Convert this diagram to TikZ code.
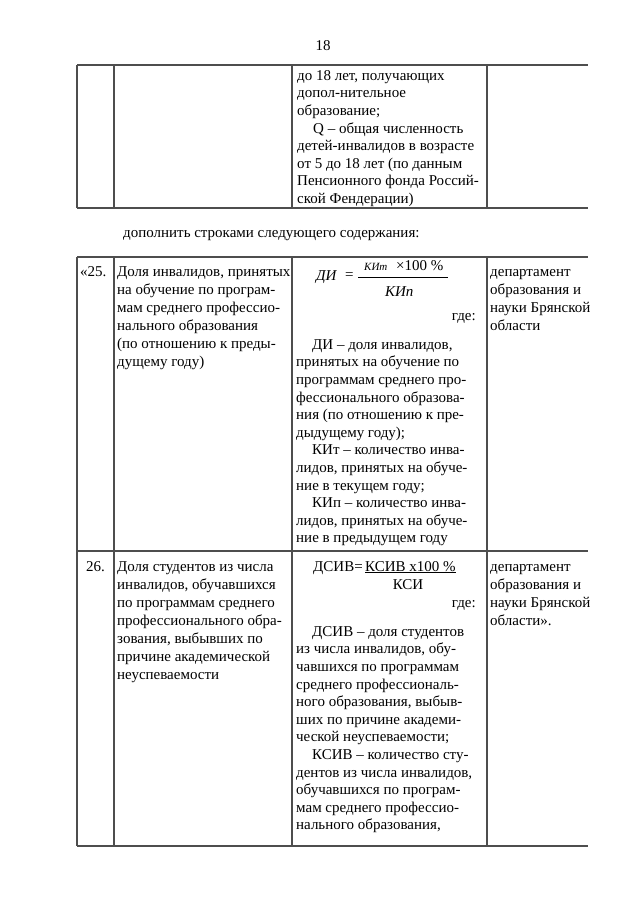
\documentclass[tikz,border=0pt]{standalone}
\usepackage{fontspec}
\setmainfont{Liberation Serif}
\usetikzlibrary{positioning}
\definecolor{rulegray}{RGB}{78,78,78}
\newcommand{\cellfont}{\fontsize{15}{17.6}\selectfont}
\newcommand{\sidefont}{\fontsize{15}{18}\selectfont}
\newcommand{\topstrut}{\rule{0pt}{12pt}}
\newcommand{\ind}{\hspace*{16pt}}
\tikzset{rule/.style = {draw=rulegray, line width=1.1pt},
         cell/.style = {anchor=north west, inner sep=0pt, align=left, font=\cellfont},
         sidecell/.style = {cell, font=\sidefont}}

\begin{document}
\begin{tikzpicture}[x=1pt, y=-1pt]
    \useasboundingbox [fill=white] (0, 0) rectangle (640, 905);

    \node (pagenum) [anchor=base, inner sep=0pt, font=\cellfont] at (323, 50) {18};

    % upper table, end of previous row
    \draw [rule] (77, 65) -- (588, 65);
    \draw [rule] (77, 208) -- (588, 208);
    \foreach \x in {77, 114, 292, 487}
      \draw [rule] (\x, 65) -- (\x, 208);
    \node (prevtext) [cell] at (297, 68) {\topstrut до 18 лет, получающих\\
      допол-нительное\\ образование;\\ \ind Q -- общая численность\\
      детей-инвалидов в возрасте\\ от 5 до 18 лет (по данным\\
      Пенсионного фонда Россий-\\ ской Фендерации)};

    \node (addrows) [anchor=base west, inner sep=0pt, font=\cellfont] at (123, 237)
      {дополнить строками следующего содержания:};

    % lower table
    \draw [rule] (77, 257) -- (588, 257);
    \draw [rule] (77, 551) -- (588, 551);
    \draw [rule] (77, 846) -- (588, 846);
    \foreach \x in {77, 114, 292, 487}
      \draw [rule] (\x, 257) -- (\x, 846);

    % row 25
    \node (numA) [sidecell] at (80, 264) {\topstrut «25.};
    \node (nameA) [sidecell] at (117, 264) {\topstrut Доля инвалидов, принятых\\
      на обучение по програм-\\ мам среднего профессио-\\ нального образования\\
      (по отношению к преды-\\ дущему году)};
    \node (dvA) [anchor=base west, inner sep=0pt, font=\cellfont\itshape] at (316, 280) {ДИ};
    \node (eqA) [anchor=base west, inner sep=0pt, font=\cellfont] at (345, 279) {=};
    \node (kitA) [anchor=base west, inner sep=0pt, font=\fontsize{11}{11}\selectfont\itshape] at (364, 270) {КИт};
    \node (hundA) [anchor=base west, inner sep=0pt, font=\cellfont] at (396, 270) {×100 \%};
    \coordinate (barAl) at (358, 277);
    \coordinate (barAr) at (448, 277);
    \draw [line width=0.6pt] (barAl) -- (barAr);
    \node (kipA) [anchor=base west, inner sep=0pt, font=\cellfont\itshape] at (385, 296) {КИп};
    \node (gdeA) [anchor=base east, inner sep=0pt, font=\cellfont] at (476, 320) {где:};
    \node (descA) [cell] at (296, 337) {\topstrut \ind ДИ -- доля инвалидов,\\
      принятых на обучение по\\ программам среднего про-\\ фессионального образова-\\
      ния (по отношению к пре-\\ дыдущему году);\\ \ind КИт -- количество инва-\\
      лидов, принятых на обуче-\\ ние в текущем году;\\ \ind КИп -- количество инва-\\
      лидов, принятых на обуче-\\ ние в предыдущем году};
    \node (deptA) [sidecell] at (490, 264) {\topstrut департамент\\ образования и\\
      науки Брянской\\ области};

    % row 26
    \node (numB) [sidecell] at (86, 559) {\topstrut 26.};
    \node (nameB) [sidecell] at (117, 559) {\topstrut Доля студентов из числа\\
      инвалидов, обучавшихся\\ по программам среднего\\ профессионального обра-\\
      зования, выбывших по\\ причине академической\\ неуспеваемости};
    \node (dvB) [anchor=base west, inner sep=0pt, font=\cellfont] at (313, 571) {ДСИВ=};
    \node (numerB) [anchor=base west, inner sep=0pt, font=\cellfont] at (365, 571) {\underline{КСИВ х100 \%}};
    \node (ksiB) [anchor=base, inner sep=0pt, font=\cellfont] at (408, 589) {КСИ};
    \node (gdeB) [anchor=base east, inner sep=0pt, font=\cellfont] at (476, 607) {где:};
    \node (descB) [cell] at (296, 624) {\topstrut \ind ДСИВ -- доля студентов\\
      из числа инвалидов, обу-\\ чавшихся по программам\\ среднего профессиональ-\\
      ного образования, выбыв-\\ ших по причине академи-\\ ческой неуспеваемости;\\
      \ind КСИВ -- количество сту-\\ дентов из числа инвалидов,\\
      обучавшихся по програм-\\ мам среднего профессио-\\ нального образования,};
    \node (deptB) [sidecell] at (490, 559) {\topstrut департамент\\ образования и\\
      науки Брянской\\ области».};
\end{tikzpicture}
\end{document}
